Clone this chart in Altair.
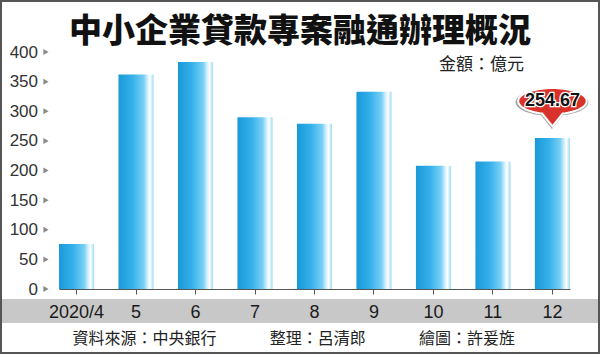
import math
import altair as alt
import pandas as pd

months = ["2020/4", "5", "6", "7", "8", "9", "10", "11", "12"]
values = [76, 362, 383, 290, 279, 333, 208, 215, 254.67]
y_ticks = [0, 50, 100, 150, 200, 250, 300, 350, 400]
title_text = "中小企業貸款專案融通辦理概況"
unit_text = "金額：億元"
footer_texts = ["資料來源：中央銀行", "整理：呂清郎", "繪圖：許爰旌"]
highlight_month = "12"

df = pd.DataFrame({"month": months, "value": values})
ticks_df = pd.DataFrame({"tick": y_ticks})
one = pd.DataFrame({"a": [0]})

CJK = "Noto Sans CJK TC"
NUM = "Liberation Sans"

W, H = 511, 237
yscale = alt.Scale(domain=[0, 400], nice=False)
xscale = alt.Scale(paddingInner=0.41, paddingOuter=0.0)

x_axis = alt.Axis(labelAngle=0, labelFont=NUM, labelFontSize=18,
                  labelColor="#1a1a1a", labelBaseline="middle",
                  labelPadding=18, tickSize=5, tickColor="#555555",
                  domainColor="#555555", domainWidth=1.2, zindex=2)
y_axis = alt.Axis(values=y_ticks, labelFont=NUM, labelFontSize=17,
                  labelColor="#333333", labelPadding=21.5,
                  labelOverlap=False, ticks=False, domain=False, grid=False)

x_enc = alt.X("month:N", sort=months, title=None, scale=xscale, axis=x_axis)
y_enc = alt.Y("value:Q", title=None, scale=yscale, axis=y_axis)

band = alt.Chart(one).mark_rect(color="#c8c8c8").encode(
    x=alt.value(-57), x2=alt.value(539), y=alt.value(247), y2=alt.value(271))

grad = alt.LinearGradient(
    gradient="linear", x1=0, x2=1, y1=0, y2=0,
    stops=[alt.GradientStop(color="#1a98d8", offset=0),
           alt.GradientStop(color="#35b0ea", offset=0.4),
           alt.GradientStop(color="#79d0f5", offset=0.72),
           alt.GradientStop(color="#d8f3ff", offset=0.84),
           alt.GradientStop(color="#ffffff", offset=0.9),
           alt.GradientStop(color="#9fdaf3", offset=1)])

bars = alt.Chart(df).mark_bar(color=grad).encode(x=x_enc, y=y_enc)

tri = alt.Chart(ticks_df).mark_point(shape="triangle-right", filled=True,
                                     size=36, color="#8a8a8a", opacity=1).encode(
    x=alt.value(-13), y=alt.Y("tick:Q", title=None, scale=yscale, axis=y_axis))

# speech-bubble outline (ellipse + downward pointer), drawn with line segments only
b = 0.38
t0 = math.degrees(math.acos(0.3))
n = 72
start = 180 - t0          # bottom-left attach point
end = 360 + t0            # bottom-right attach point
pts = []
for i in range(n + 1):
    t = math.radians(start + (end - start) * i / n)
    pts.append((math.cos(t), b * math.sin(t)))
path = "M " + " L ".join(f"{px:.4f} {py:.4f}" for px, py in pts) + " L 0 0.74 Z"

hl = alt.Chart(df).transform_filter(alt.datum.month == highlight_month)

shadow = hl.mark_point(shape=path, filled=True, size=5300,
                       color="#7a7a7a", opacity=0.7, yOffset=-36,
                       xOffset=-0.5).encode(x=x_enc, y=y_enc)
bubble = hl.mark_point(shape=path, filled=True, size=4700,
                       fill="#d8322a", stroke="#ffffff", strokeWidth=2,
                       opacity=1, yOffset=-37).encode(x=x_enc, y=y_enc)
lab_bg = hl.mark_text(font=NUM, fontSize=18, fontWeight="bold", color="#ffffff",
                      stroke="#ffffff", strokeWidth=2.5, baseline="middle",
                      yOffset=-37).encode(
    x=x_enc, y=y_enc, text=alt.Text("value:Q", format=".2f"))
lab = hl.mark_text(font=NUM, fontSize=18, fontWeight="bold", color="#111111",
                   baseline="middle", yOffset=-37).encode(
    x=x_enc, y=y_enc, text=alt.Text("value:Q", format=".2f"))

title = alt.Chart(one).mark_text(font=CJK, fontSize=33, fontWeight=900,
                                 color="#111111", align="center",
                                 baseline="middle").encode(
    x=alt.value(241), y=alt.value(-20), text=alt.value(title_text))
unit = alt.Chart(one).mark_text(font=CJK, fontSize=17, color="#222222",
                                align="right", baseline="middle").encode(
    x=alt.value(465), y=alt.value(13), text=alt.value(unit_text))

footer_x = [85.5, 258.7, 408]
footers = [alt.Chart(one).mark_text(font=CJK, fontSize=16, color="#222222",
                                    align="center", baseline="middle").encode(
    x=alt.value(fx), y=alt.value(287), text=alt.value(t))
    for fx, t in zip(footer_x, footer_texts)]

frame = alt.Chart(one).mark_rect(fill=None, stroke="#555555", strokeWidth=2).encode(
    x=alt.value(-58), x2=alt.value(540), y=alt.value(-51), y2=alt.value(301))

chart = alt.layer(band, bars, tri, shadow, bubble, lab_bg, lab, title, unit,
                  *footers, frame).properties(
    width=W, height=H,
    autosize=alt.AutoSizeParams(type="none"),
    padding={"left": 59, "top": 52, "right": 30, "bottom": 65},
    background="#ffffff",
).configure_view(stroke=None)

chart.save("out.html", embed_options={"renderer": "svg", "actions": False})
